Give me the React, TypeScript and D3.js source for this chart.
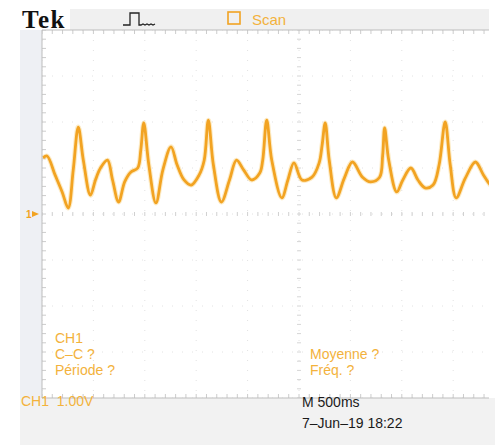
import * as d3 from 'd3'
import React, {useEffect, useRef} from 'react'

// time in ms (M 500ms/div, 10 div) and CH1 voltage (1.00V/div)
const timeMs = [10, 49, 127, 196, 255, 304, 353, 402, 471, 520, 569, 637, 686, 745, 804, 863, 931, 961, 990, 1039,
    1108, 1176, 1255, 1314, 1382, 1451, 1529, 1578, 1618, 1667, 1745, 1824, 1892, 1961, 2039, 2118, 2147, 2186,
    2235, 2333, 2392, 2451, 2529, 2627, 2696, 2725, 2755, 2794, 2863, 2941, 3020, 3118, 3196, 3284, 3314, 3333,
    3373, 3451, 3510, 3588, 3657, 3725, 3804, 3863, 3922, 3971, 4029, 4118, 4216, 4294, 4363, 4412]
const ch1Volts = [1.22, 1.26, 0.85, 0.48, 0.13, 0.96, 1.89, 1.17, 0.41, 0.74, 1.0, 1.17, 0.74, 0.26, 0.7, 0.91, 1.0, 1.39, 1.98, 1.07,
    0.24, 0.96, 1.46, 1.07, 0.74, 0.63, 0.85, 1.17, 2.04, 1.07, 0.26, 0.74, 1.17, 0.96, 0.74, 0.89, 1.17, 2.04,
    1.17, 0.35, 0.74, 1.11, 0.74, 0.8, 1.11, 1.5, 1.98, 1.17, 0.35, 0.78, 1.13, 0.8, 0.7, 0.8, 1.28, 1.87,
    1.17, 0.48, 0.74, 1.0, 0.74, 0.57, 0.63, 1.07, 2.0, 1.07, 0.35, 0.78, 1.13, 0.85, 0.63, 0.57]

const timeDivs = d3.range(0, 5001, 500)
const voltDivs = d3.range(-4, 5, 1)
const measuresLeft = ['CH1', 'C\u2013C ?', 'Période ?']
const measuresRight = ['Moyenne ?', 'Fréq. ?']

const ORANGE = '#f2a322'
const LABEL = '#f3b23c'

function Scope() {
    const ref = useRef<SVGSVGElement>(null)

    useEffect(() => {
        const W = 495, H = 445
        const svg = d3.select(ref.current)
        svg.selectAll('*').remove()

        let x = d3.scaleLinear().domain([0, 5000]).range([42, 556])
        let y = d3.scaleLinear().domain([-4, 4]).range([398, 30])
        const right = 489

        // instrument frame
        svg.append('rect').attr('x', 0).attr('y', 0).attr('width', W).attr('height', H).attr('fill', '#ffffff')
        svg.append('rect').attr('x', 70).attr('y', 9).attr('width', right - 70).attr('height', 21).attr('fill', '#f0f0f0')
        svg.append('rect').attr('x', 20).attr('y', 30).attr('width', 22).attr('height', 368).attr('fill', '#eef0f4')
        svg.append('rect').attr('x', 20).attr('y', 398).attr('width', W - 20).attr('height', H - 398).attr('fill', '#f2f2f2')

        let screen = svg.append('g')
        screen.append('defs').append('clipPath').attr('id', 'scr')
            .append('rect').attr('x', 42).attr('y', 30).attr('width', right - 42).attr('height', 368)
        let g = screen.append('g').attr('clip-path', 'url(#scr)')
        g.append('rect').attr('x', 42).attr('y', 30).attr('width', right - 42).attr('height', 368).attr('fill', '#ffffff')

        // dotted graticule, very faint
        g.selectAll('.vgrid').data(timeDivs).enter().append('line')
            .attr('x1', d => x(d)).attr('x2', d => x(d)).attr('y1', 30).attr('y2', 398)
            .attr('stroke', '#e2e2e2').attr('stroke-width', 1).attr('stroke-dasharray', '1,9')
        g.selectAll('.hgrid').data(voltDivs).enter().append('line')
            .attr('x1', 42).attr('x2', 560).attr('y1', d => y(d)).attr('y2', d => y(d))
            .attr('stroke', '#e2e2e2').attr('stroke-width', 1).attr('stroke-dasharray', '1,9')

        // minor ticks on the centre lines and edges
        const tMinor = d3.range(0, 5001, 100)
        const vMinor = d3.range(-4, 4.01, 0.2)
        g.selectAll('.ct').data(tMinor).enter().append('line')
            .attr('x1', d => x(d)).attr('x2', d => x(d)).attr('y1', y(0) - 2).attr('y2', y(0) + 2)
            .attr('stroke', '#d0d0d0')
        g.selectAll('.tt').data(tMinor).enter().append('line')
            .attr('x1', d => x(d)).attr('x2', d => x(d)).attr('y1', 30).attr('y2', 34)
            .attr('stroke', '#cccccc')
        g.selectAll('.bt').data(tMinor).enter().append('line')
            .attr('x1', d => x(d)).attr('x2', d => x(d)).attr('y1', 394).attr('y2', 398)
            .attr('stroke', '#cccccc')
        g.selectAll('.cv').data(vMinor).enter().append('line')
            .attr('x1', x(2500) - 2).attr('x2', x(2500) + 2).attr('y1', d => y(d)).attr('y2', d => y(d))
            .attr('stroke', '#d6d6d6')
        g.selectAll('.lv').data(vMinor).enter().append('line')
            .attr('x1', 42).attr('x2', 46).attr('y1', d => y(d)).attr('y2', d => y(d))
            .attr('stroke', '#cccccc')

        // CH1 trace
        const pts = timeMs.map((t, i) => [t, ch1Volts[i]] as [number, number])
        let line = d3.line<[number, number]>().x(d => x(d[0])).y(d => y(d[1])).curve(d3.curveCatmullRom.alpha(0.5))
        g.append('path').attr('d', line(pts)).attr('fill', 'none')
            .attr('stroke', '#f8cd70').attr('stroke-width', 5).attr('stroke-opacity', 0.4).attr('stroke-linejoin', 'round')
        g.append('path').attr('d', line(pts)).attr('fill', 'none')
            .attr('stroke', ORANGE).attr('stroke-width', 2.8).attr('stroke-linejoin', 'round')

        // screen borders
        svg.append('line').attr('x1', 42).attr('x2', right).attr('y1', 30).attr('y2', 30).attr('stroke', '#bdbdbd')
        svg.append('line').attr('x1', 42).attr('x2', right).attr('y1', 398).attr('y2', 398).attr('stroke', '#bdbdbd')
        svg.append('line').attr('x1', 42).attr('x2', 42).attr('y1', 30).attr('y2', 398).attr('stroke', '#bdbdbd')

        // ground marker
        svg.append('text').attr('x', 26).attr('y', y(0) + 4).attr('fill', ORANGE)
            .style('font-family', 'Liberation Sans, Arial').style('font-size', '10px').style('font-weight', 'bold').text('1')
        svg.append('path').attr('d', `M32,${y(0) - 3} L39,${y(0)} L32,${y(0) + 3} Z`).attr('fill', ORANGE)

        // top bar
        svg.append('text').attr('x', 22).attr('y', 28)
            .style('font-family', 'Liberation Serif, Times New Roman, serif').style('font-size', '25px')
            .style('font-weight', 'bold').style('letter-spacing', '1.5px').attr('fill', '#111').text('Tek')
        svg.append('path')
            .attr('d', 'M123,25 H130 V13 H139 V25 H141 l2,-1 l2,1 l2,-1 l2,1 l2,-1 l2,1 l2,-1')
            .attr('fill', 'none').attr('stroke', '#222').attr('stroke-width', 1.3)
        svg.append('rect').attr('x', 228).attr('y', 12).attr('width', 12).attr('height', 12)
            .attr('fill', 'none').attr('stroke', ORANGE).attr('stroke-width', 1.6)
        svg.append('text').attr('x', 252).attr('y', 25).attr('fill', LABEL)
            .style('font-family', 'Liberation Sans, Arial').style('font-size', '15px').text('Scan')

        // measurement readouts
        const txt = (sel: any) => sel.style('font-family', 'Liberation Sans, Arial').style('font-size', '14px')
        svg.selectAll('.ml').data(measuresLeft).enter().append('text')
            .attr('x', 55).attr('y', (d, i) => 343 + i * 16).attr('fill', LABEL).call(txt).text(d => d)
        svg.selectAll('.mr').data(measuresRight).enter().append('text')
            .attr('x', 310).attr('y', (d, i) => 359 + i * 16).attr('fill', LABEL).call(txt).text(d => d)

        // bottom status bar
        svg.append('text').attr('x', 21).attr('y', 406).attr('fill', LABEL).call(txt).text('CH1  1.00V')
            .style('white-space', 'pre')
        svg.append('text').attr('x', 302).attr('y', 407).attr('fill', '#1a1a1a').call(txt).text('M 500ms')
        svg.append('text').attr('x', 302).attr('y', 428).attr('fill', '#1a1a1a').call(txt).text('7\u2013Jun\u201319 18:22')
    }, [])

    return <svg ref={ref} width={495} height={445} style={{position: 'absolute', left: 0, top: 0, display: 'block'}} />
}

export default function App() {
    return <Scope />
}
